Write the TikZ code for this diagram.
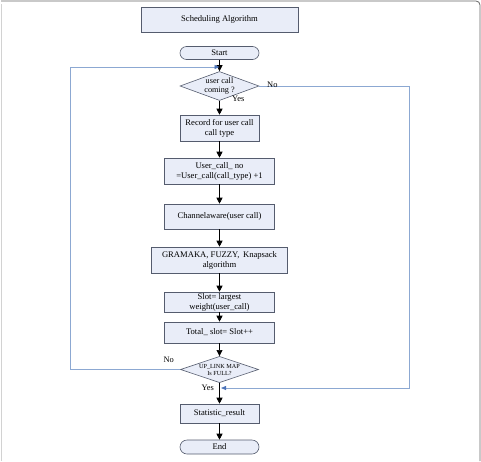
\documentclass[tikz,border=0pt]{standalone}
\usepackage{fontspec}
\setmainfont{Liberation Serif}
\usetikzlibrary{shapes.geometric,arrows.meta}
\definecolor{boxfill}{RGB}{233,237,248}
\definecolor{boxline}{RGB}{85,92,110}
\definecolor{loopblue}{RGB}{140,168,210}
\definecolor{tipblue}{RGB}{75,115,185}
\tikzset{
  procbox/.style={draw=boxline, fill=boxfill, line width=0.6pt, inner sep=0pt, align=center, font=\fontsize{8.6}{10}\selectfont},
  termbox/.style={procbox, rounded corners=6.5pt},
  decbox/.style={procbox, diamond, aspect=2.7, font=\fontsize{8.2}{9.5}\selectfont},
  flow/.style={draw=black, line width=0.6pt, -{Triangle[length=6pt,width=6pt]}},
  loopline/.style={draw=loopblue, line width=0.8pt, -{Triangle[length=5pt,width=4pt,color=tipblue]}},
  lab/.style={font=\fontsize{8.4}{10}\selectfont, inner sep=1pt}
}
\begin{document}
\begin{tikzpicture}[x=1pt,y=-1pt]
\useasboundingbox (0,0) rectangle (481,461);
% outer frame
\draw[gray!35, line width=0.8pt] (1,461) -- (1,4);
\draw[gray!80!black, line width=0.8pt, rounded corners=4pt] (1,1) -- (480,1) -- (480,461);

\node[procbox, minimum width=157pt, minimum height=25pt] (title) at (219.5,19.5) {Scheduling Algorithm};
\node[termbox, minimum width=79pt, minimum height=13pt] (start) at (219.5,53) {Start};
\node[decbox, minimum width=79pt, minimum height=29pt] (d1) at (219.5,86) {user call\\coming ?};
\node[procbox, minimum width=79pt, minimum height=26pt] (rec) at (219.5,128) {Record for user call\\call type};
\node[procbox, minimum width=110pt, minimum height=26pt] (ucn) at (219.5,171) {User\_call\_ no\\=User\_call(call\_type) +1};
\node[procbox, minimum width=110pt, minimum height=25pt] (ch) at (219.5,216.5) {Channelaware(user call)};
\node[procbox, minimum width=136pt, minimum height=26pt] (gr) at (219.5,260) {GRAMAKA, FUZZY,\, Knapsack\\algorithm};
\node[procbox, minimum width=110pt, minimum height=20pt] (slot) at (219.5,302) {Slot= largest\\weight(user\_call)};
\node[procbox, minimum width=110pt, minimum height=21pt] (tot) at (219.5,332.5) {Total\_ slot= Slot++};
\node[decbox, minimum width=78pt, minimum height=25pt, font=\fontsize{6.2}{7}\selectfont] (d2) at (219.5,369.5) {UP\_LINK MAP\\Is FULL?};
\node[procbox, minimum width=79pt, minimum height=19pt] (stat) at (219.5,413.5) {Statistic\_result};
\node[termbox, minimum width=79pt, minimum height=14pt, rounded corners=7pt] (end) at (219.5,447) {End};

\coordinate (j1) at (219.5,67);
\coordinate (j2) at (221,388);
\coordinate (lt) at (70,67);
\coordinate (lb) at (70,369.5);
\coordinate (rt) at (409,86);
\coordinate (rb) at (409,388);

\draw[flow] (start) -- (d1);
\draw[flow] (d1) -- (rec);
\draw[flow] (rec) -- (ucn);
\draw[flow] (ucn) -- (ch);
\draw[flow] (ch) -- (gr);
\draw[flow] (gr) -- (slot);
\draw[flow] (slot) -- (tot);
\draw[flow] (tot) -- (d2);
\draw[flow] (d2) -- (stat);
\draw[flow] (stat) -- (end);

\draw[loopline] (d2.west) -- (lb) -- (lt) -- (j1);
\draw[loopline] (d1.east) -- (rt) -- (rb) -- (j2);

\node[lab, anchor=west] (yes1) at (231,99) {Yes};
\node[lab, anchor=west] (no1) at (266,85) {No};
\node[lab, anchor=east] (no2) at (175,360) {No};
\node[lab, anchor=east] (yes2) at (215,388) {Yes};
\end{tikzpicture}
\end{document}
